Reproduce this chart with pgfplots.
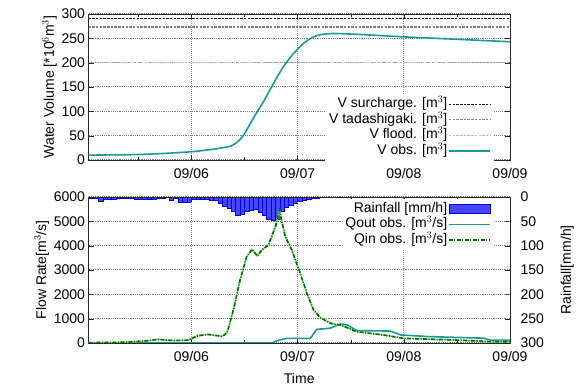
\documentclass[border=0pt]{standalone}
\usepackage{pgfplots}
\pgfplotsset{compat=1.18}
\usepackage{fontspec}
\setmainfont{Liberation Sans}
\definecolor{vteal}{RGB}{24,155,150}
\definecolor{qingreen}{RGB}{0,110,0}
\definecolor{qinlight}{RGB}{160,220,150}
\definecolor{rainfill}{RGB}{70,70,255}
\definecolor{rainedge}{RGB}{0,0,220}
\definecolor{gridgray}{RGB}{150,150,150}
\begin{document}
\begin{tikzpicture}
\useasboundingbox (0,0) rectangle (584pt,388pt);
\pgfplotsset{
  every axis/.append style={
    font=\fontsize{14}{16}\selectfont,
    scale only axis, width=421.5pt, height=146pt,
    xmin=0.75, xmax=96,
    /pgf/number format/assume math mode=true,
    /pgf/number format/1000 sep={},
    scaled y ticks=false,
    tick align=inside,
    axis line style={black!85},
    major tick length=5pt, minor tick length=3pt,
    tick style={black!85},
    xticklabel style={yshift=-5pt},
  },
  every tick label/.append style={font=\fontsize{14}{16}\selectfont},
  mygrid/.style={grid=major,
    x grid style={draw=gridgray, line width=0.8pt, dash pattern=on 1pt off 1pt},
    y grid style={draw=gridgray!85!black, line width=1pt, dash pattern=on 1.2pt off 1pt}},
  mylegend/.style={
    legend plot pos=right,
    legend cell align=right,
    legend style={draw=none, fill=white, font=\fontsize{14}{16}\selectfont,
      nodes={inner sep=1pt, text height=10pt, text depth=3pt}, row sep=0.6pt,
      /tikz/every even column/.append style={column sep=8pt}},
    legend image code/.code={\draw[##1] (0pt,0pt) -- (41pt,0pt);},
  },
}
% ---------------- top: water volume ----------------
\begin{axis}[
  at={(88.5pt,228pt)}, anchor=south west,
  ymin=0, ymax=300,
  xtick={24,48,72,96}, xticklabels={09/06,09/07,09/08,09/09},
  minor xtick={12,36,60,84},
  ytick={0,50,...,300},
  mygrid,
  ylabel={Water Volume [*10$^6$m$^3$]},
  ylabel style={yshift=-2pt},
  mylegend,
  legend style={at={(0.962,-0.005)}, anchor=south east},
]
\addplot[black!90, line width=1.3pt, dash pattern=on 2.5pt off 1.2pt] coordinates {(0.75,291) (96,291)};
\addlegendentry{V surcharge. [m$^3$]}
\addplot[black!50, line width=1.3pt, dash pattern=on 2.5pt off 1.2pt] coordinates {(0.75,273) (96,273)};
\addlegendentry{V tadashigaki. [m$^3$]}
\addplot[black!25, line width=1.3pt, dash pattern=on 2.5pt off 1.2pt] coordinates {(0.75,200.5) (96,200.5)};
\addlegendentry{V flood. [m$^3$]}
\addplot[vteal, line width=1.6pt, smooth, tension=0.4] coordinates {
(0.75,10) (6,10.5) (11,11) (18,13.5) (24,17) (28,21) (31,25) (33,29) (34.5,38)
(35.8,51) (38,86) (40.3,120) (42.6,158) (44.8,192) (47.1,219) (49.4,240)
(51.6,253) (53.5,258) (56,260) (58,259.5) (62,258) (72,253) (84,248) (96,243)};
\addlegendentry{V obs. [m$^3$]}
\end{axis}
% ---------------- bottom: rainfall (right axis) ----------------
\begin{axis}[
  at={(88.5pt,45pt)}, anchor=south west,
  ymin=0, ymax=300, y dir=reverse,
  axis y line*=right, axis x line=none,
  ytick={0,50,...,300},
  yticklabel style={xshift=7pt},
  ylabel={Rainfall[mm/h]},
  ylabel style={yshift=-10pt},
]
\addplot[ybar, bar width=1, fill=rainfill, draw=rainedge, line width=0.5pt] coordinates {
(0.5,3) (1.5,3) (2.5,3) (3.5,8) (4.5,5) (5.5,5) (6.5,5) (7.5,2) (8.5,2) (9.5,2) (10.5,2)
(11.5,5) (12.5,5) (13.5,5) (14.5,5) (15.5,5) (16.5,3) (17.5,3) (18.5,1) (19.5,7) (20.5,2)
(21.5,10) (22.5,10) (23.5,10) (24.5,5) (25.5,5) (26.5,5) (27.5,5) (28.5,7) (29.5,7)
(30.5,13) (31.5,18) (32.5,23) (33.5,30) (34.5,37) (35.5,35) (36.5,30) (37.5,27) (38.5,25)
(39.5,32) (40.5,38) (41.5,45) (42.5,47) (43.5,46) (44.5,30) (45.5,22) (46.5,17) (47.5,12)
(48.5,9) (49.5,7) (50.5,5) (51.5,3) (52.5,2) (53.5,1) (54.5,0.5) (55.5,0) (57.5,0) (59.5,0)
(61.5,0) (63.5,0) (65.5,0) (67.5,0) (69.5,0) (71.5,0) (73.5,0) (75.5,0) (77.5,0) (79.5,0)
(81.5,0) (83.5,0) (85.5,0) (87.5,0) (89.5,0) (91.5,0) (93.5,0) (95.5,0)};
\end{axis}
% ---------------- bottom: flow rate (left axis) ----------------
\begin{axis}[
  at={(88.5pt,45pt)}, anchor=south west,
  ymin=0, ymax=6000,
  ytick={0,1000,...,6000}, ytick pos=left,
  xtick={24,48,72,96}, xticklabels={09/06,09/07,09/08,09/09},
  minor xtick={12,36,60,84},
  mygrid,
  xlabel={Time},
  xlabel style={yshift=-5pt},
  ylabel={Flow Rate[m$^3$/s]},
  ylabel style={yshift=-2pt},
  mylegend,
  legend style={at={(0.962,0.985)}, anchor=north east},
]
\addlegendimage{legend image code/.code={\draw[fill=rainfill, draw=rainedge, line width=0.6pt] (0pt,-4.5pt) rectangle (41pt,4.5pt);}}
\addlegendentry{Rainfall [mm/h]}
\addplot[vteal, line width=1.6pt] coordinates {
(0.75,0) (42.2,0) (43.5,100) (45.6,190) (50.9,190) (52.3,560) (55.4,610) (57.7,780)
(59.2,740) (61.4,510) (69.0,490) (71.3,330) (78.0,260) (90.0,200) (91.6,120) (96,120)};
\addlegendentry{Qout obs. [m$^3$/s]}
\addplot[qinlight, line width=1.6pt, forget plot] coordinates {
(0.75,15) (8,30) (11.9,55) (14.5,100) (16.4,150) (18.5,120) (20.2,100) (23.2,120)
(25.5,300) (27.8,350) (30.7,280) (31.5,330) (32.2,500) (33.5,1360) (35.0,2590)
(36.5,3550) (37.7,3850) (38.9,3575) (39.9,3820) (41.4,4030) (43.0,4780) (43.9,5466)
(45.2,4370) (46.7,3820) (48.6,2860) (50.1,2040) (51.6,1360) (53.1,1050) (55.4,810)
(57.7,740) (61.4,465) (67.4,330) (71.9,190) (84.1,120) (91.6,55) (96,50)};
\addplot[qingreen, line width=1.6pt, dash pattern=on 4pt off 1.5pt on 1pt off 1.5pt] coordinates {
(0.75,15) (8,30) (11.9,55) (14.5,100) (16.4,150) (18.5,120) (20.2,100) (23.2,120)
(25.5,300) (27.8,350) (30.7,280) (31.5,330) (32.2,500) (33.5,1360) (35.0,2590)
(36.5,3550) (37.7,3850) (38.9,3575) (39.9,3820) (41.4,4030) (43.0,4780) (43.9,5466)
(45.2,4370) (46.7,3820) (48.6,2860) (50.1,2040) (51.6,1360) (53.1,1050) (55.4,810)
(57.7,740) (61.4,465) (67.4,330) (71.9,190) (84.1,120) (91.6,55) (96,50)};
\addlegendentry{Qin obs. [m$^3$/s]}
\end{axis}
\end{tikzpicture}
\end{document}
